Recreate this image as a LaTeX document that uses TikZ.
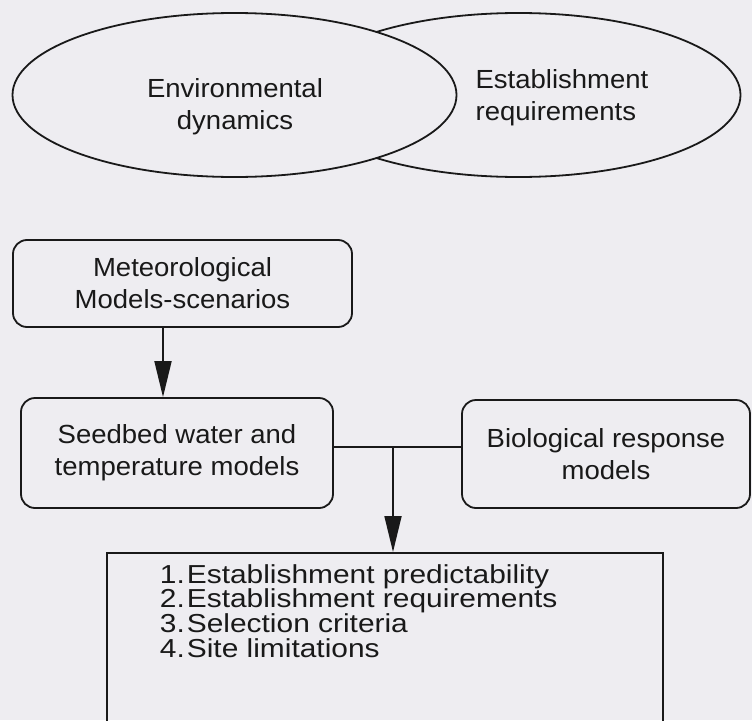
\documentclass[tikz,border=0pt]{standalone}
\usepackage{fontspec}
\setmainfont{Liberation Sans}[FakeStretch=1.05]
\newfontfamily\listfont{Liberation Sans}[FakeStretch=1.15]
\usetikzlibrary{arrows.meta,shapes.geometric}
\definecolor{paper}{RGB}{238,237,241}
\definecolor{ink}{RGB}{25,25,25}
\tikzset{
  >={Triangle[length=36pt,width=17pt]},
  every node/.style={font=\fontsize{26.2}{32}\selectfont},
  blob/.style={ellipse,draw,fill=paper,minimum width=444pt,minimum height=164pt,inner sep=0pt},
  model/.style={rectangle,rounded corners=14pt,draw,align=center,inner sep=0pt},
}

\begin{document}
\begin{tikzpicture}[
  x=1pt,y=-1pt,
  color=ink,line width=1.8pt,
  crit/.style={font=\listfont\fontsize{26}{25}\selectfont,inner sep=0pt}
]

\fill[paper] (0,0) rectangle (752,720);
\useasboundingbox (0,0) rectangle (752,720);

% overlapping ellipses
\node[blob] (estreq) at (518.5,95) {};
\node[blob] (envdyn) at (234.5,95) {};
\node[align=center] (envtxt) at (235,107) {Environmental\\dynamics};
\node[align=left] (esttxt) at (562,98) {Establishment\\requirements};

% models
\node[model,minimum width=339pt,minimum height=87pt] (met) at (182.5,283.5) {Meteorological\\Models-scenarios};
\node[model,minimum width=312pt,minimum height=110pt] (seedbed) at (177,453) {Seedbed water and\\temperature models};
\node[model,minimum width=288pt,minimum height=108pt] (bio) at (606,454) {Biological response\\models};

% outcome box, runs off the page
\node[draw,rectangle,inner sep=0pt,anchor=north,minimum width=556pt,minimum height=200pt] (result) at (385,552) {};
\foreach \txt [count=\i] in {Establishment predictability,Establishment requirements,Selection criteria,Site limitations}
  \node[crit,anchor=base west] (crit\i) at (159,{583+24.7*(\i-1)}) {\makebox[27pt][l]{\i.}\txt};

\coordinate (join) at (393,447);

\draw[->] (met.south -| 163,0) -- (seedbed.north -| 163,0);
\draw (seedbed.east |- join) -- (bio.west |- join);
\draw[->] (join) -- (join |- result.north);

\end{tikzpicture}
\end{document}
